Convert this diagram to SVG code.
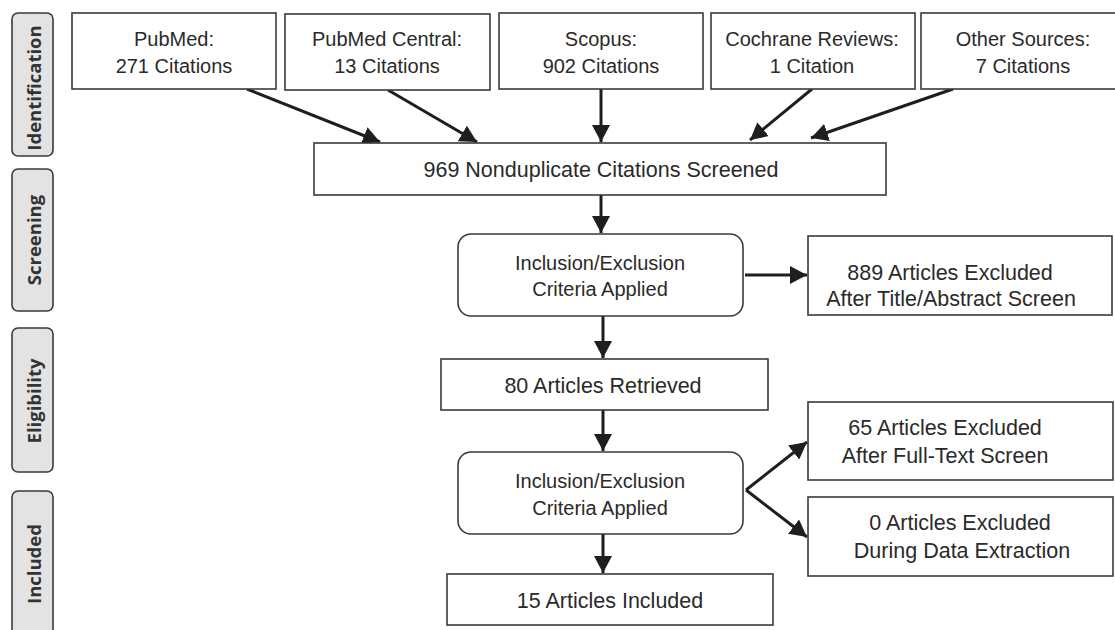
<svg xmlns="http://www.w3.org/2000/svg" width="1115" height="630" viewBox="0 0 1115 630">
<style>
.box{fill:#fff;stroke:#3a3a3a;stroke-width:1.6}
.side{fill:#e3e3e3;stroke:#3a3a3a;stroke-width:1.6}
.t{font-family:"Liberation Sans",Arial,sans-serif;font-size:21.5px;fill:#2a2a2a;text-anchor:middle}
.ts{font-size:20px}
.lab{font-family:"Open Sans","DejaVu Sans",sans-serif;font-weight:bold;font-size:18.5px;fill:#333;text-anchor:middle}
.c{stroke:#1e1e1e;stroke-width:3;fill:none;marker-end:url(#ah)}
</style>
<defs>
<marker id="ah" markerUnits="userSpaceOnUse" markerWidth="18" markerHeight="18" refX="17" refY="9" orient="auto">
<path d="M0,0 L17,9 L0,18 Z" fill="#1e1e1e"/>
</marker>
</defs>
<rect width="1115" height="630" fill="#fff"/>

<g id="lane-identification"><rect class="side" x="12" y="13" width="41" height="143" rx="6"/><text class="lab" x="41" y="88" transform="rotate(-90 41 88)">Identification</text></g>
<g id="lane-screening"><rect class="side" x="12" y="169" width="41" height="142" rx="6"/><text class="lab" x="41" y="240" transform="rotate(-90 41 240)">Screening</text></g>
<g id="lane-eligibility"><rect class="side" x="12" y="328" width="41" height="144" rx="6"/><text class="lab" x="41" y="401" transform="rotate(-90 41 401)">Eligibility</text></g>
<g id="lane-included"><rect class="side" x="12" y="491" width="41" height="150" rx="6"/><text class="lab" x="41" y="564" transform="rotate(-90 41 564)">Included</text></g>

<g id="connectors">
<line class="c" x1="247" y1="89" x2="380" y2="142"/>
<line class="c" x1="388" y1="90" x2="477" y2="142"/>
<line class="c" x1="601" y1="89" x2="601" y2="142"/>
<line class="c" x1="812" y1="89" x2="750" y2="140"/>
<line class="c" x1="953" y1="89" x2="811" y2="138"/>
<line class="c" x1="601" y1="195" x2="601" y2="233"/>
<line class="c" x1="745" y1="275" x2="807" y2="275"/>
<line class="c" x1="603" y1="316" x2="603" y2="358"/>
<line class="c" x1="603" y1="410" x2="603" y2="451"/>
<line class="c" x1="746" y1="490" x2="807" y2="442"/>
<line class="c" x1="746" y1="490" x2="807" y2="537"/>
<line class="c" x1="603" y1="534" x2="603" y2="573"/>
</g>

<g id="pubmed"><rect class="box" x="72" y="13" width="204" height="76"/><text class="t ts" x="174" y="46">PubMed:</text><text class="t ts" x="174" y="73">271 Citations</text></g>
<g id="pmc"><rect class="box" x="285" y="14" width="205" height="76"/><text class="t ts" x="387" y="46">PubMed Central:</text><text class="t ts" x="387" y="73">13 Citations</text></g>
<g id="scopus"><rect class="box" x="499" y="13" width="204" height="76"/><text class="t ts" x="601" y="46">Scopus:</text><text class="t ts" x="601" y="73">902 Citations</text></g>
<g id="cochrane"><rect class="box" x="711" y="13" width="204" height="76"/><text class="t ts" x="812" y="46">Cochrane Reviews:</text><text class="t ts" x="812" y="73">1 Citation</text></g>
<g id="other"><rect class="box" x="921" y="13" width="210" height="76"/><text class="t ts" x="1023" y="46">Other Sources:</text><text class="t ts" x="1023" y="73">7 Citations</text></g>

<g id="screened"><rect class="box" x="314" y="143" width="572" height="52"/><text class="t" x="601" y="177">969 Nonduplicate Citations Screened</text></g>
<g id="criteria1"><rect class="box" x="458" y="234" width="285" height="82" rx="13"/><text class="t ts" x="600" y="270">Inclusion/Exclusion</text><text class="t ts" x="600" y="296">Criteria Applied</text></g>
<g id="excluded1"><rect class="box" x="808" y="236" width="304" height="79"/><text class="t" x="950" y="280">889 Articles Excluded</text><text class="t" x="951" y="306">After Title/Abstract Screen</text></g>
<g id="retrieved"><rect class="box" x="441" y="359" width="327" height="51"/><text class="t" x="603" y="393">80 Articles Retrieved</text></g>
<g id="criteria2"><rect class="box" x="458" y="452" width="285" height="82" rx="13"/><text class="t ts" x="600" y="488">Inclusion/Exclusion</text><text class="t ts" x="600" y="515">Criteria Applied</text></g>
<g id="excluded2"><rect class="box" x="808" y="402" width="305" height="78"/><text class="t" x="945" y="435">65 Articles Excluded</text><text class="t" x="945" y="463">After Full-Text Screen</text></g>
<g id="excluded3"><rect class="box" x="808" y="497" width="305" height="79"/><text class="t" x="960" y="530">0 Articles Excluded</text><text class="t" x="962" y="558">During Data Extraction</text></g>
<g id="included"><rect class="box" x="447" y="574" width="326" height="51"/><text class="t" x="610" y="608">15 Articles Included</text></g>
</svg>
